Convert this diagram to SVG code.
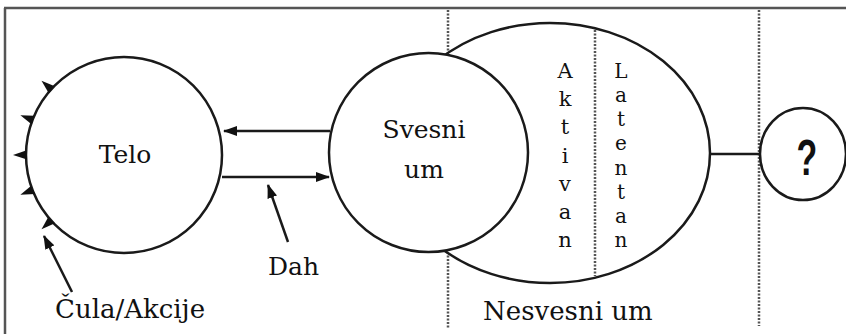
<svg xmlns="http://www.w3.org/2000/svg" width="846" height="334" viewBox="0 0 846 334">
<style>
.ln{fill:none;stroke:#1a1a1a;stroke-width:2.5}
.dot{fill:none;stroke:#555;stroke-width:2.5;stroke-dasharray:2 1.5}
.nd{fill:#fff;stroke:#1a1a1a;stroke-width:2.5}
text{fill:#111}
.s{font-family:'DejaVu Serif','Liberation Serif',serif}
.v{text-anchor:middle}
</style>
<defs>
<marker id="ah" markerWidth="14" markerHeight="10" refX="13" refY="5" orient="auto" markerUnits="userSpaceOnUse">
<path d="M0,0 L14,5 L0,10 Z" fill="#111"/>
</marker>
<polygon id="barb" points="111,0 97,-4.5 98,4.5" fill="#111"/>
</defs>
<rect width="846" height="334" fill="#fff"/>
<g id="frame">
<line x1="4" y1="8" x2="846" y2="8" stroke="#555" stroke-width="2.5"/>
<line x1="5" y1="8" x2="5" y2="334" stroke="#555" stroke-width="2.5"/>
</g>
<g id="dividers">
<line class="dot" x1="448" y1="10" x2="448" y2="54"/>
<line class="dot" x1="448" y1="252" x2="448" y2="328"/>
<line class="dot" x1="759" y1="10" x2="759" y2="326"/>
</g>
<g id="unconscious">
<ellipse class="nd" cx="550" cy="153" rx="160" ry="130"/>
<line class="dot" x1="595" y1="30" x2="595" y2="276"/>
<g class="v s" font-size="21">
<text x="565" y="78">A</text><text x="565" y="106">k</text><text x="565" y="134">t</text><text x="565" y="163">i</text><text x="565" y="191">v</text><text x="565" y="219">a</text><text x="565" y="247">n</text>
</g>
<g class="v s" font-size="20">
<text x="621" y="78">L</text><text x="621" y="102">a</text><text x="621" y="126">t</text><text x="621" y="150">e</text><text x="621" y="175">n</text><text x="621" y="199">t</text><text x="621" y="223">a</text><text x="621" y="247">n</text>
</g>
<text class="s" x="483" y="320" font-size="26">Nesvesni um</text>
</g>
<g id="conscious">
<circle class="nd" cx="428.5" cy="152.5" r="99.5"/>
<text class="s" x="424" y="138" font-size="25" text-anchor="middle">Svesni</text>
<text class="s" x="424" y="178" font-size="25" text-anchor="middle">um</text>
</g>
<g id="body">
<circle class="nd" cx="124" cy="155" r="98"/>
<text class="s" x="125" y="163" font-size="25" text-anchor="middle">Telo</text>
<g transform="translate(124,155)">
<use href="#barb" transform="rotate(222)"/>
<use href="#barb" transform="rotate(201)"/>
<use href="#barb" transform="rotate(180)"/>
<use href="#barb" transform="rotate(159)"/>
<use href="#barb" transform="rotate(138)"/>
</g>
</g>
<g id="unknown">
<ellipse class="nd" cx="803" cy="154" rx="43" ry="46"/>
<text transform="translate(807,175) scale(0.68,1)" font-family="'Liberation Sans', Arial, sans-serif" font-weight="bold" font-size="50" text-anchor="middle">?</text>
</g>
<g id="connectors">
<line class="ln" x1="330" y1="131" x2="224" y2="131" marker-end="url(#ah)"/>
<line class="ln" x1="222" y1="177" x2="329" y2="177" marker-end="url(#ah)"/>
<line class="ln" x1="288" y1="242" x2="268" y2="185" marker-end="url(#ah)"/>
<line class="ln" x1="72" y1="292" x2="44" y2="236" marker-end="url(#ah)"/>
<line class="ln" x1="710" y1="154" x2="760" y2="154"/>
</g>
<g id="labels">
<text class="s" x="268" y="275" font-size="25">Dah</text>
<text class="s" x="55" y="318" font-size="26">Čula/Akcije</text>
</g>
</svg>
